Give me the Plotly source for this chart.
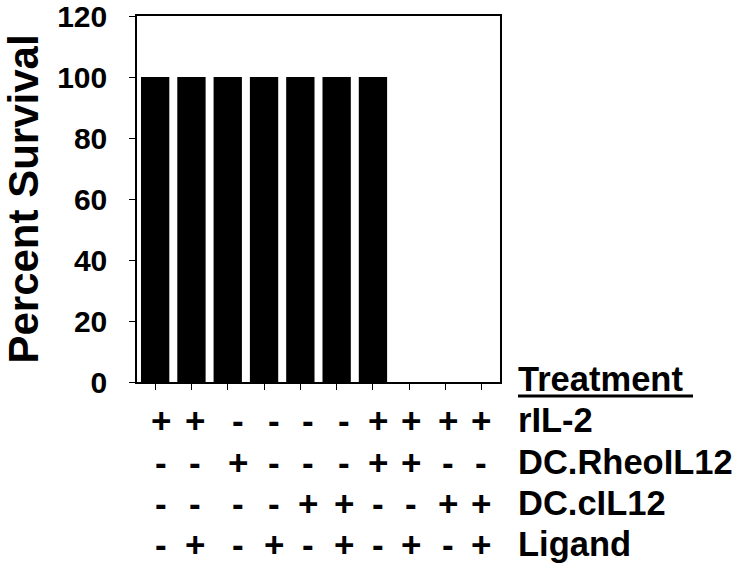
import plotly.graph_objects as go

# ---- data ----
groups = ["G1", "G2", "G3", "G4", "G5", "G6", "G7", "G8", "G9", "G10"]
survival = [100, 100, 100, 100, 100, 100, 100, 0, 0, 0]
row_labels = ["rIL-2", "DC.RheoIL12", "DC.cIL12", "Ligand"]
rIL2 = ["+", "+", "-", "-", "-", "-", "+", "+", "+", "+"]
rheoIL12 = ["-", "-", "+", "-", "-", "-", "+", "+", "-", "-"]
cIL12 = ["-", "-", "-", "-", "+", "+", "-", "-", "+", "+"]
ligand = ["-", "+", "-", "+", "-", "+", "-", "+", "-", "+"]
y_ticks = [0, 20, 40, 60, 80, 100, 120]

# ---- layout constants ----
W, H = 733, 568
L, R, T, B = 137, 233, 16, 186
plot_w = W - L - R
plot_h = H - T - B
FONT = "Liberation Sans, Arial, sans-serif"
col_shift = [6, 4, 10, 10, 8, 7, 5, 2, 2, -1]
row_centers = [420, 462, 503, 544]  # pixel y
LABEL_X = 516

fig = go.Figure()
fig.add_trace(go.Bar(
    x=groups, y=survival, marker=dict(color="black", line=dict(width=0)),
    width=0.78, showlegend=False,
))

annotations = []
bottom_px = H - B
for r, (lab, signs) in enumerate(zip(row_labels, [rIL2, rheoIL12, cIL12, ligand])):
    cy = row_centers[r]
    for i, (g, s) in enumerate(zip(groups, signs)):
        annotations.append(dict(
            x=g, xref="x", y=0, yref="paper", yanchor="middle", xanchor="center",
            yshift=-(cy - bottom_px), xshift=col_shift[i],
            text=s, showarrow=False,
            font=dict(family=FONT, size=35, color="black", weight="bold"),
        ))
    annotations.append(dict(
        x=(LABEL_X - L) / plot_w, xref="paper", y=0, yref="paper",
        xanchor="left", yanchor="middle", yshift=-(cy - bottom_px),
        text=lab, showarrow=False,
        font=dict(family=FONT, size=34.5, color="black", weight="bold"),
    ))

annotations.append(dict(
    x=(LABEL_X - L) / plot_w, xref="paper", y=0, yref="paper",
    xanchor="left", yanchor="middle", yshift=-(379 - bottom_px),
    text="Treatment", showarrow=False,
    font=dict(family=FONT, size=34.5, color="black", weight="bold"),
))

fig.add_shape(type="line", xref="paper", yref="paper",
              x0=(518 - L) / plot_w, x1=(693 - L) / plot_w,
              y0=(bottom_px - 396) / plot_h, y1=(bottom_px - 396) / plot_h,
              line=dict(color="black", width=3))

fig.update_layout(
    width=W, height=H,
    margin=dict(l=L, r=R, t=T, b=B, autoexpand=False),
    paper_bgcolor="white", plot_bgcolor="white",
    annotations=annotations,
)
fig.update_xaxes(
    type="category", showticklabels=False, ticks="outside", ticklen=6,
    tickcolor="black", showline=True, linecolor="black", linewidth=1.5,
    mirror=True, showgrid=False, range=[-0.5, 9.5], automargin=False,
)
fig.update_yaxes(
    range=[0, 120.01], tickvals=y_ticks, ticks="outside", ticklen=6,
    tickcolor="black", showline=True, linecolor="black", linewidth=1.5,
    mirror=True, showgrid=False, zeroline=False, automargin=False,
    tickfont=dict(family=FONT, size=30, color="black", weight="bold"),
    ticklabelstandoff=16, ticklabeloverflow="allow",
    title=dict(text="Percent Survival", standoff=7,
               font=dict(family=FONT, size=42, color="black", weight="bold")),
)

fig.write_html("out.html", config={"displayModeBar": False})

# remove the browser's default page margin so the figure fills the window
with open("out.html", "r", encoding="utf-8") as f:
    html = f.read()
html = html.replace("<head>", "<head><style>html,body{margin:0;padding:0;overflow:hidden;}</style>", 1)
with open("out.html", "w", encoding="utf-8") as f:
    f.write(html)
